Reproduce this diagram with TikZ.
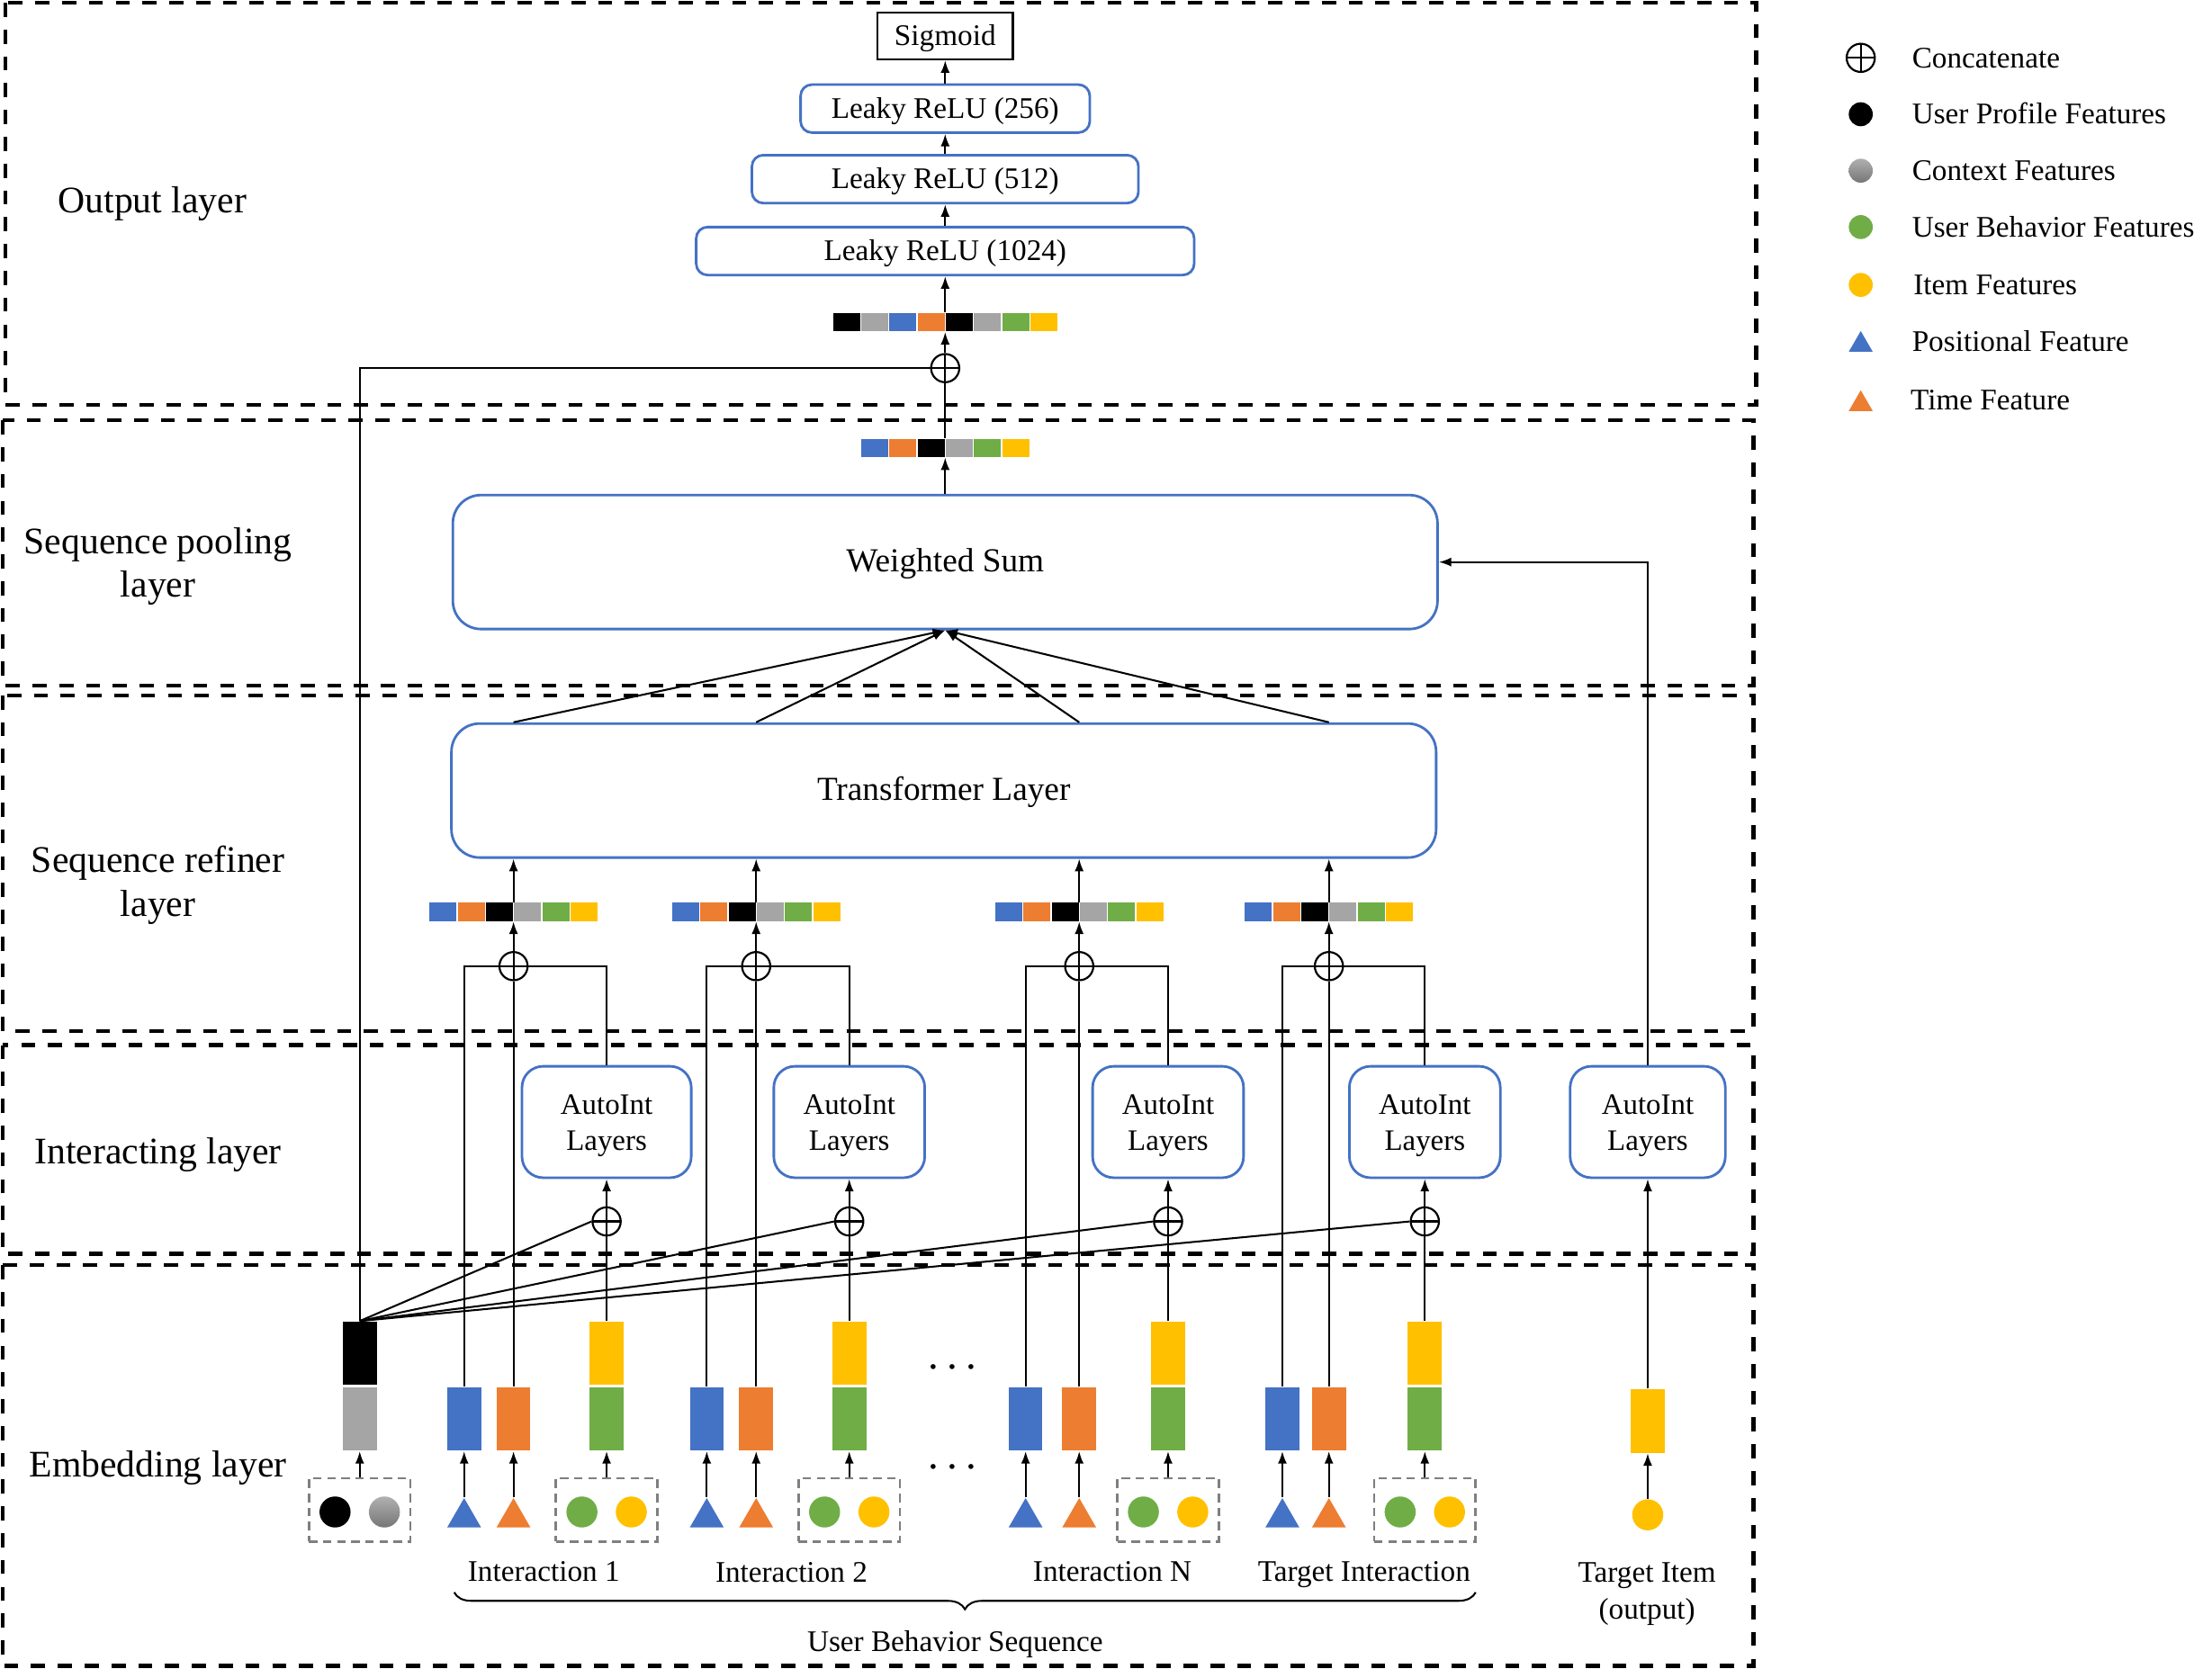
\documentclass[tikz,border=0pt]{standalone}
\usepackage{fontspec}
\setmainfont{Liberation Serif}
\usetikzlibrary{arrows.meta,shapes.geometric,decorations.pathreplacing}

\definecolor{fblue}{HTML}{4472C4}
\definecolor{forange}{HTML}{ED7D31}
\definecolor{fgray}{HTML}{A5A5A5}
\definecolor{fgreen}{HTML}{70AD47}
\definecolor{fyellow}{HTML}{FFC000}
\definecolor{boxgray}{HTML}{7F7F7F}
\definecolor{shadetop}{HTML}{B0B0B0}
\definecolor{shadebot}{HTML}{767676}

% feature bar: name, centre x, centre y, number of cells, cell colours
\newcommand\featbar[5]{%
  \node[inner sep=0pt, minimum width={#4*10pt}, minimum height=6.5pt] (#1) at (#2,#3) {};
  \foreach \col [count=\i] in {#5}
    \fill[\col] ({#2-#4*10+(\i-1)*20+0.4},{#3-6.5}) rectangle ({#2-#4*10+\i*20-0.4},{#3+6.5});
}

\begin{document}
\begin{tikzpicture}[x=0.5pt, y=-0.5pt,
  font=\fontsize{10.6}{12.7}\selectfont,
  conn/.style={line width=0.65pt},
  arr/.style={line width=0.65pt, -{Latex[length=4.4pt,width=3.2pt]}},
  layerbox/.style={line width=1.4pt, dash pattern=on 5pt off 4.5pt},
  layerlabel/.style={align=center, yshift=-1.3pt, font=\fontsize{13.3}{15.5}\selectfont},
  onetext/.style={text height=1.5ex, text depth=0pt},
  bluebox/.style={draw=fblue, line width=0.9pt, rounded corners=4pt, inner sep=0pt},
  bigbox/.style={bluebox, onetext, rounded corners=10pt, minimum width=349pt, minimum height=47.5pt,
    font=\fontsize{11.9}{14}\selectfont},
  autoint/.style={bluebox, rounded corners=7.5pt, minimum height=39.5pt},
  autotext/.style={align=center, inner sep=0pt, font=\fontsize{10.5}{12.5}\selectfont},
  emb/.style={inner sep=0pt, minimum width=12pt, minimum height=22.5pt},
  concat/.style={circle, draw, line width=0.7pt, fill=white, minimum size=10pt, inner sep=0pt,
    path picture={\draw[line width=0.7pt]
      (path picture bounding box.north) -- (path picture bounding box.south)
      (path picture bounding box.west) -- (path picture bounding box.east);}},
  fdot/.style={circle, inner sep=0pt, minimum size=11pt},
  ldot/.style={circle, inner sep=0pt, minimum size=8.5pt},
  tri/.style={regular polygon, regular polygon sides=3, inner sep=0pt, minimum size=13.86pt},
  ltri/.style={regular polygon, regular polygon sides=3, inner sep=0pt, minimum size=9.8pt},
  groupbox/.style={draw=boxgray, line width=0.8pt, dash pattern=on 3pt off 2pt, inner sep=0pt,
    minimum width=36pt, minimum height=22.5pt},
  grayshade/.style={top color=shadetop, bottom color=shadebot},
  lbl/.style={inner sep=0pt, onetext},
  legtext/.style={lbl, anchor=west}
]
\useasboundingbox (0,0) rectangle (1568,1183);

% ---------- layer frames and their names ----------
\draw[layerbox] (4,2) rectangle (1245,287);
\draw[layerbox] (2,298) rectangle (1243,486);
\draw[layerbox] (2,493) rectangle (1243,731);
\draw[layerbox] (2,741) rectangle (1243,889);
\draw[layerbox] (2,897) rectangle (1243,1181);

\node[layerlabel] (lout) at (108,142) {Output layer};
\node[layerlabel] (lpool) at (112,399) {Sequence pooling\\layer};
\node[layerlabel] (lref) at (112,625) {Sequence refiner\\layer};
\node[layerlabel] (lint) at (112,816) {Interacting layer};
\node[layerlabel] (lemb) at (112,1038) {Embedding layer};

% ---------- output layer ----------
\node[draw, onetext, line width=0.8pt, minimum width=48pt, minimum height=16.5pt, inner sep=0pt] (sig) at (670,25.5) {Sigmoid};
\node[bluebox, onetext, minimum width=102.5pt, minimum height=17pt] (l256) at (670,77) {Leaky ReLU (256)};
\node[bluebox, onetext, minimum width=137pt, minimum height=17pt] (l512) at (670,127) {Leaky ReLU (512)};
\node[bluebox, onetext, minimum width=176.5pt, minimum height=17pt] (l1024) at (670,178) {Leaky ReLU (1024)};
\featbar{topbar}{670}{228.5}{8}{black,fgray,fblue,forange,black,fgray,fgreen,fyellow}
\node[concat] (cat0) at (670,261) {};

% ---------- pooling and refiner ----------
\featbar{poolbar}{670}{317.5}{6}{fblue,forange,black,fgray,fgreen,fyellow}
\node[bigbox] (ws) at (670,398.5) {Weighted Sum};
\node[bigbox] (tf) at (669,560.5) {Transformer Layer};

% ---------- user profile / context column ----------
\node[emb, fill=black] (pu) at (255,959.5) {};
\node[emb, fill=fgray] (pc) at (255,1006) {};
\node[groupbox] (gbp) at (255,1070.5) {};
\node[fdot, fill=black] (cpu) at (237.5,1072) {};
\node[fdot, grayshade] (cpc) at (272.5,1072) {};
\draw[arr] (gbp.north) -- (pc.south);
\draw[conn] (pu.north) |- (cat0.west);

% ---------- interactions ----------
\foreach \k/\xb/\xo/\xc/\aw in {1/329/364/430/60, 2/501/536/602/53.5, N/727/765/828/53.5, T/909/942/1010/53.5} {
  \node[emb, fill=fblue] (b\k) at (\xb,1006) {};
  \node[emb, fill=forange] (o\k) at (\xo,1006) {};
  \node[emb, fill=fyellow] (y\k) at (\xc,959.5) {};
  \node[emb, fill=fgreen] (g\k) at (\xc,1006) {};
  \node[tri, fill=fblue] (tb\k) at (\xb,1076) {};
  \node[tri, fill=forange] (to\k) at (\xo,1076) {};
  \node[groupbox] (gb\k) at (\xc,1070.5) {};
  \node[fdot, fill=fgreen] (cg\k) at (\xc-17.5,1072) {};
  \node[fdot, fill=fyellow] (cy\k) at (\xc+17.5,1072) {};
  \node[concat] (ic\k) at (\xc,866) {};
  \node[autoint, minimum width=\aw*1pt] (a\k) at (\xc,795.5) {};
  \node[autotext] (at\k) at ([yshift=-1.3pt]a\k.center) {AutoInt\\Layers};
  \node[concat] (rc\k) at (\xo,685) {};
  \featbar{rb\k}{\xo}{646.5}{6}{fblue,forange,black,fgray,fgreen,fyellow}
  \draw[arr] (tb\k.north) -- (b\k.south);
  \draw[arr] (to\k.north) -- (o\k.south);
  \draw[arr] (gb\k.north) -- (g\k.south);
  \draw[conn] (y\k.north) -- (ic\k.south);
  \draw[arr] (ic\k.north) -- (a\k.south);
  \draw[conn] (pu.north) -- (ic\k.west);
  \draw[conn] (b\k.north) |- (rc\k.center) -| (a\k.north);
  \draw[conn] (o\k.north) -- (rc\k.south);
  \draw[arr] (rc\k.north) -- (rb\k.south);
  \draw[arr] (rb\k.north) -- (rb\k.north |- tf.south);
  \draw[arr] (rb\k.north |- tf.north) -- (ws.south);
}

% ---------- target item ----------
\node[emb, fill=fyellow] (ti) at (1168,1007.5) {};
\node[fdot, fill=fyellow] (tic) at (1168,1074) {};
\node[autoint, minimum width=55pt] (a5) at (1168,795.5) {};
\node[autotext] (at5) at ([yshift=-1.3pt]a5.center) {AutoInt\\Layers};
\draw[arr] (tic.north) -- (ti.south);
\draw[arr] (ti.north) -- (a5.south);
\draw[arr] (a5.north) |- (ws.east);

% ---------- output stack connectors ----------
\draw[arr] (ws.north) -- (poolbar.south);
\draw[conn] (poolbar.north) -- (cat0.south);
\draw[arr] (cat0.north) -- (topbar.south);
\draw[arr] (topbar.north) -- (l1024.south);
\draw[arr] (l1024.north) -- (l512.south);
\draw[arr] (l512.north) -- (l256.south);
\draw[arr] (l256.north) -- (sig.south);

% ---------- ellipses between interactions ----------
\node[anchor=base, inner sep=0pt, font=\fontsize{15}{18}\selectfont] (dotsA) at (675,970.5) {.\hspace{3pt}.\hspace{3pt}.};
\node[anchor=base, inner sep=0pt, font=\fontsize{15}{18}\selectfont] (dotsB) at (675,1041.5) {.\hspace{3pt}.\hspace{3pt}.};

% ---------- captions ----------
\node[lbl] (cap1) at (385.5,1114) {Interaction 1};
\node[lbl] (cap2) at (561,1115) {Interaction 2};
\node[lbl] (capN) at (788.5,1114) {Interaction N};
\node[lbl] (capT) at (967,1114) {Target Interaction};
\node[align=center, inner sep=0pt, font=\fontsize{10.6}{13}\selectfont, yshift=-1.5pt] (capI) at (1167.5,1127) {Target Item\\(output)};
\draw[conn, decorate, decoration={brace, amplitude=6pt}] (1046,1129) -- (322,1129);
\node[lbl] (capS) at (677,1164) {User Behavior Sequence};

% ---------- legend ----------
\node[concat] (lg1) at (1319,41) {};
\node[legtext] (lt1) at (1355,41) {Concatenate};
\node[ldot, fill=black] (lg2) at (1319,81) {};
\node[legtext] (lt2) at (1355,81) {User Profile Features};
\node[ldot, grayshade] (lg3) at (1319,121) {};
\node[legtext] (lt3) at (1355,121) {Context Features};
\node[ldot, fill=fgreen] (lg4) at (1319,161) {};
\node[legtext] (lt4) at (1355,161) {User Behavior Features};
\node[ldot, fill=fyellow] (lg5) at (1319,202) {};
\node[legtext] (lt5) at (1356,202) {Item Features};
\node[ltri, fill=fblue] (lg6) at (1319,244.5) {};
\node[legtext] (lt6) at (1355,242) {Positional Feature};
\node[ltri, fill=forange] (lg7) at (1319,286.5) {};
\node[legtext] (lt7) at (1354,284) {Time Feature};
\end{tikzpicture}
\end{document}
